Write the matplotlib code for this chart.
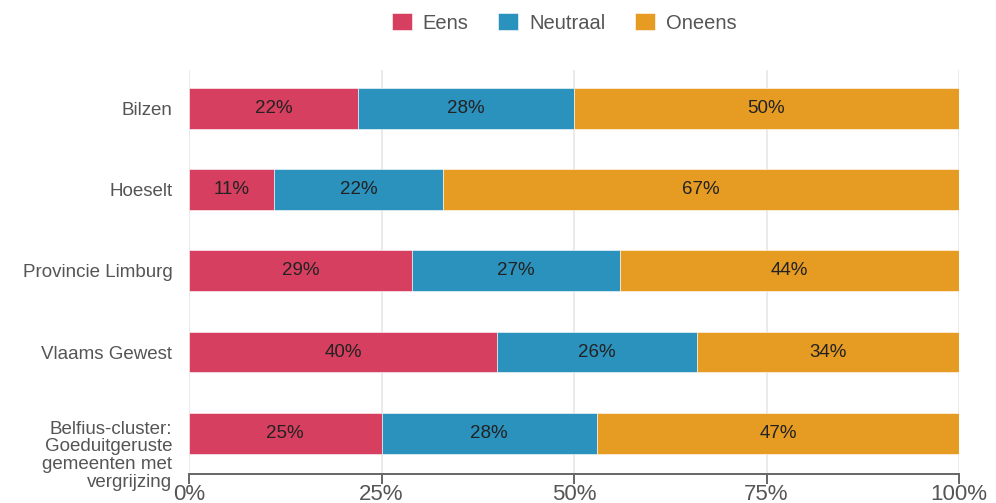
import matplotlib
matplotlib.use("Agg")
import matplotlib.pyplot as plt
import matplotlib.transforms as mtransforms
import numpy as np

plt.rcParams['font.family'] = ['Liberation Sans', 'DejaVu Sans']

categories = ["Bilzen", "Hoeselt", "Provincie Limburg", "Vlaams Gewest",
              "Belfius-cluster:\nGoeduitgeruste\ngemeenten met\nvergrijzing"]
series_names = ["Eens", "Neutraal", "Oneens"]
eens = [22, 11, 29, 40, 25]
neutraal = [28, 22, 27, 26, 28]
oneens = [50, 67, 44, 34, 47]
colors = ["#d63f5f", "#2b91bd", "#e69b22"]
xticks = [0, 25, 50, 75, 100]
xticklabels = ["0%", "25%", "50%", "75%", "100%"]

fig = plt.figure(figsize=(9.96, 5.03), dpi=100)
ax = fig.add_axes([189/996, 1-474/503, (959-189)/996, (474-70)/503])

y = np.arange(len(categories))
left = np.zeros(len(categories))
for name, vals, c in zip(series_names, [eens, neutraal, oneens], colors):
    vals = np.array(vals, dtype=float)
    ax.barh(y, vals, left=left, height=0.5, color=c, label=name,
            edgecolor='white', linewidth=0.4, zorder=3)
    for yi, l, v in zip(y, left, vals):
        ax.text(l + v/2, yi, f"{int(v)}%", ha='center', va='center',
                fontsize=13.5, color='#222222', zorder=4)
    left += vals

ax.set_xlim(0, 100)
ax.set_ylim(4.5, -0.47)
ax.set_yticks(y)
ax.set_yticklabels(categories, fontsize=13.5, color='#555555', linespacing=1.05)
ax.set_xticks(xticks)
ax.set_xticklabels(xticklabels, fontsize=16, color='#555555')
ax.tick_params(axis='y', length=0, pad=12)
ax.tick_params(axis='x', length=7, width=1.4, color='#666666', pad=0)
for s in ['top', 'right', 'left']:
    ax.spines[s].set_visible(False)
ax.spines['bottom'].set_color('#666666')
ax.spines['bottom'].set_linewidth(1.4)
ax.grid(axis='x', color='#e6e6e6', linewidth=1.2, zorder=0)
ax.set_axisbelow(True)

# shift the multi-line label down as in the reference
last = ax.get_yticklabels()[-1]
last.set_transform(last.get_transform() +
                   mtransforms.ScaledTranslation(0, -20/100, fig.dpi_scale_trans))

leg = fig.legend(loc='center', bbox_to_anchor=(564/996, 1-23/503), ncol=3,
                 frameon=False, fontsize=14.5, handlelength=1.0, handleheight=0.85,
                 columnspacing=1.45, handletextpad=0.55)
for t in leg.get_texts():
    t.set_color('#555555')

fig.savefig("out.png", dpi=100)
